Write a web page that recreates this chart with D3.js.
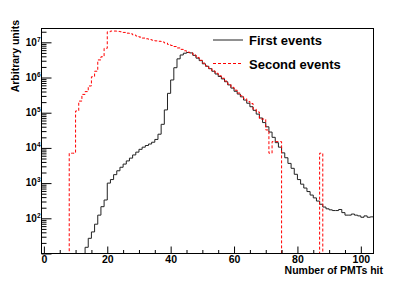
<!DOCTYPE html>
<html>
<head>
<meta charset="utf-8">
<script src="https://cdn.jsdelivr.net/npm/d3@7"></script>
<style>
	body { margin: 0; background: #fff; }
	svg { display: block; font-family: "Liberation Sans", Arial, Helvetica, sans-serif; font-weight: bold; }
</style>
</head>
<body>
<div id="chart"></div>
<script>
// Histogram contents, one bin per PMT count
const nBins = 104;
const firstStartBin = 13;
const firstEvents = [
	15, 27, 41, 68, 123, 214, 331,
	1000, 1260, 1740, 2240, 2820, 3470, 4270, 5130, 6310, 7590,
	9120, 10500, 11700, 12900, 14500, 17400, 24500, 46800, 120000, 355000,
	851000, 1.9e6, 3.39e6, 4.37e6, 4.9e6, 5.13e6, 5.0e6, 4.27e6, 3.55e6, 3.02e6,
	2.45e6, 2.09e6, 1.78e6, 1.51e6, 1.26e6, 1.07e6, 912000, 759000, 617000, 501000,
	407000, 339000, 282000, 229000, 186000, 148000, 117000, 91200, 70800, 52500,
	39800, 28200, 20000, 14100, 10500, 7240, 5250, 3630, 2630, 1780,
	1260, 933, 724, 575, 457, 380, 309, 251, 209, 186,
	174, 166, 166, 178, 145, 123, 123, 132, 123, 117,
	107, 117, 107, 110,
];
const secondStartBin = 8;
const secondEvents = [
	7080, 7080,
	112000, 214000, 331000, 398000, 575000, 1.05e6, 1.51e6, 3.16e6, 3.89e6, 6.76e6,
	2.0e7, 2.09e7, 2.09e7, 2.04e7, 2.0e7, 1.91e7, 1.82e7, 1.74e7, 1.62e7, 1.51e7,
	1.41e7, 1.32e7, 1.26e7, 1.2e7, 1.15e7, 1.1e7, 1.07e7, 1.02e7, 9.55e6, 8.71e6,
	8.13e6, 7.59e6, 6.92e6, 6.31e6, 5.75e6, 5.25e6, 5.01e6, 4.37e6, 3.72e6, 3.09e6,
	2.57e6, 2.14e6, 1.82e6, 1.55e6, 1.32e6, 1.12e6, 955000, 794000, 646000, 525000,
	437000, 363000, 302000, 251000, 209000, 182000, 126000, 105000, 66100, 66100,
	32400, 7080, 15100, 15100, 15100, 0, 0, 0, 0, 0,
	0, 0, 0, 0, 0, 0, 0, 7080,
];
const xTickValues = [0, 20, 40, 60, 80, 100];
const xMinorStep = 5;
const yTickExponents = [2, 3, 4, 5, 6, 7];
const legendLabels = ["First events", "Second events"];
const seriesColors = ["#222", "#ff0000"];

// Dimensions
const width = 415;
const height = 282;
const margin = { top: 28.5, right: 41.5, bottom: 28.5, left: 41.5 };

const svg = d3
	.select("#chart")
	.append("svg")
	.attr("width", width)
	.attr("height", height);

// Scales
const xScale = d3
	.scaleLinear()
	.domain([-0.75, nBins])
	.range([margin.left, width - margin.right]);

const yScale = d3
	.scaleLog()
	.domain([10, 2.47e7])
	.range([height - margin.bottom, margin.top]);

const yBottom = yScale.range()[0];
const yValue = (v) => (v > 0 ? yScale(v) : yBottom);

// Turn the value lists into full bin arrays
function toBins(start, values) {
	return d3.range(nBins).map((i) => ({
		x0: i,
		x1: i + 1,
		value: i >= start && i < start + values.length ? values[i - start] : 0,
	}));
}

function stepPath(bins) {
	const pts = [];
	bins.forEach((b, i) => {
		const x0 = i === 0 ? xScale.domain()[0] : b.x0;
		pts.push([xScale(x0), yValue(b.value)], [xScale(b.x1), yValue(b.value)]);
	});
	return d3.line()(pts);
}

const series = [
	{ label: legendLabels[0], bins: toBins(firstStartBin, firstEvents), color: seriesColors[0], dash: null },
	{ label: legendLabels[1], bins: toBins(secondStartBin, secondEvents), color: seriesColors[1], dash: "3,2" },
];

// Histograms
svg
	.append("g")
	.selectAll("path")
	.data(series)
	.enter()
	.append("path")
	.attr("d", (d) => stepPath(d.bins))
	.attr("fill", "none")
	.attr("stroke", (d) => d.color)
	.attr("stroke-width", 1)
	.attr("stroke-dasharray", (d) => d.dash);

// Frame
svg
	.append("rect")
	.attr("x", margin.left)
	.attr("y", margin.top)
	.attr("width", width - margin.left - margin.right)
	.attr("height", height - margin.top - margin.bottom)
	.attr("fill", "none")
	.attr("stroke", "#000");

// X axis: ticks point inward
const xMinor = d3.range(0, nBins, xMinorStep).filter((v) => !xTickValues.includes(v));
svg
	.append("g")
	.attr("transform", `translate(0,${yBottom})`)
	.call(d3.axisBottom(xScale).tickValues(xMinor).tickSize(-3.5).tickSizeOuter(0).tickFormat(""))
	.call((g) => g.select(".domain").remove());

svg
	.append("g")
	.attr("transform", `translate(0,${yBottom})`)
	.call(d3.axisBottom(xScale).tickValues(xTickValues).tickSize(-7).tickSizeOuter(0).tickPadding(2))
	.call((g) => g.select(".domain").remove())
	.call((g) => g.selectAll("text").attr("fill", "#000").style("font-size", "10.5px").style("font-weight", "bold").style("font-family", null));

// Y axis: decade majors and 2..9 minors
const [yLo, yHi] = yScale.domain();
const yMajor = d3.range(1, 8).map((e) => Math.pow(10, e)).filter((v) => v >= yLo && v <= yHi);
const yMinor = [];
d3.range(1, 8).forEach((e) => {
	d3.range(2, 10).forEach((m) => {
		const v = m * Math.pow(10, e);
		if (v >= yLo && v <= yHi) yMinor.push(v);
	});
});

svg
	.append("g")
	.attr("transform", `translate(${margin.left},0)`)
	.call(d3.axisLeft(yScale).tickValues(yMinor).tickSize(-5).tickSizeOuter(0).tickFormat(""))
	.call((g) => g.select(".domain").remove());

svg
	.append("g")
	.attr("transform", `translate(${margin.left},0)`)
	.call(d3.axisLeft(yScale).tickValues(yMajor).tickSize(-10).tickSizeOuter(0).tickFormat(""))
	.call((g) => g.select(".domain").remove());

// Y tick labels as 10 with superscript exponent
const yLabels = svg
	.append("g")
	.selectAll("text")
	.data(yTickExponents)
	.enter()
	.append("text")
	.attr("x", margin.left - 1)
	.attr("y", (e) => yScale(Math.pow(10, e)) + 3.3)
	.attr("text-anchor", "end")
	.style("font-size", "10px");

yLabels.append("tspan").text("10");
yLabels
	.append("tspan")
	.attr("dy", -4)
	.style("font-size", "6.5px")
	.text((e) => e);

// Axis titles
svg
	.append("text")
	.attr("transform", "translate(18.5,20) rotate(-90)")
	.attr("text-anchor", "end")
	.style("font-size", "10.5px")
	.text("Arbitrary units");

svg
	.append("text")
	.attr("x", 383)
	.attr("y", 274)
	.attr("text-anchor", "end")
	.style("font-size", "10.5px")
	.text("Number of PMTs hit");

// Legend
const legend = svg
	.append("g")
	.selectAll("g")
	.data(series)
	.enter()
	.append("g")
	.attr("transform", (d, i) => `translate(213,${40 + i * 23.5})`);

legend
	.append("line")
	.attr("x1", 0)
	.attr("x2", 30)
	.attr("stroke", (d) => d.color)
	.attr("stroke-width", 1)
	.attr("stroke-dasharray", (d) => d.dash);

legend
	.append("text")
	.attr("x", 36)
	.attr("y", 5)
	.style("font-size", "13px")
	.text((d) => d.label);
</script>
</body>
</html>
